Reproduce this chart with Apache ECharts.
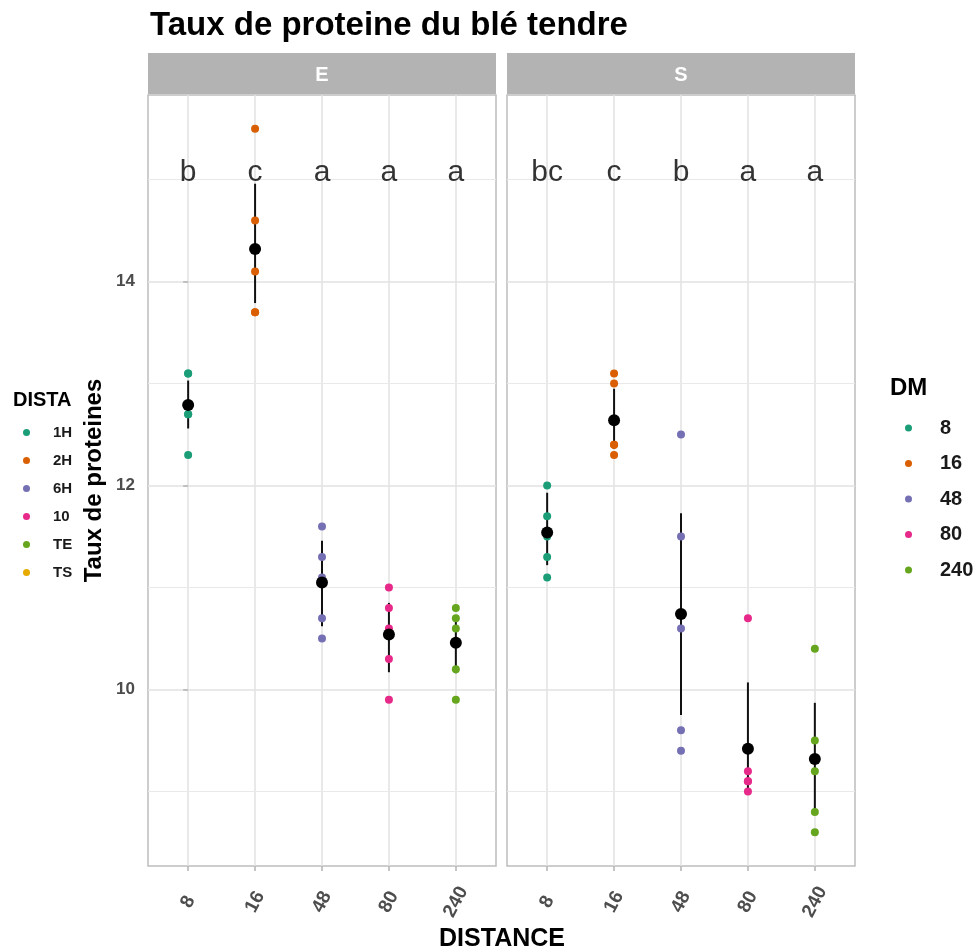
<!DOCTYPE html>
<html>
<head>
<meta charset="utf-8">
<script src="https://cdn.jsdelivr.net/npm/echarts@6/dist/echarts.min.js"></script>
<style>
  html, body { margin: 0; padding: 0; background: #fff; }
  #chart { width: 979px; height: 952px; }
</style>
</head>
<body>
<div id="chart"></div>
<script>
// Protein content of soft wheat, by distance, in two facets (E, S)
const distances = ['8', '16', '48', '80', '240'];
const panels = ['E', 'S'];
const distaLevels = ['1H', '2H', '6H', '10', 'TE', 'TS'];

// individual measurements, one list per distance
const proteinE = [
  [13.1, 13.1, 12.7, 12.7, 12.3],
  [15.5, 14.6, 14.1, 13.7, 13.7],
  [11.6, 11.3, 11.1, 10.7, 10.5],
  [11.0, 10.8, 10.6, 10.3, 9.9],
  [10.8, 10.7, 10.6, 10.2, 9.9]
];
const proteinS = [
  [12.0, 11.7, 11.5, 11.3, 11.1],
  [13.1, 13.0, 12.4, 12.4, 12.3],
  [12.5, 11.5, 10.6, 9.6, 9.4],
  [10.7, 9.2, 9.1, 9.1, 9.0],
  [10.4, 9.5, 9.2, 8.8, 8.6]
];

// summary: mean and interval bounds
const meanE = [12.79, 14.32, 11.05, 10.54, 10.46];
const lowE  = [12.56, 13.79, 10.62, 10.17, 10.16];
const highE = [13.03, 14.96, 11.46, 10.85, 10.73];
const meanS = [11.54, 12.64, 10.74, 9.42, 9.32];
const lowS  = [11.22, 12.36, 9.75, 9.00, 8.80];
const highS = [11.93, 12.95, 11.73, 10.07, 9.87];

// significance groups
const lettersE = ['b', 'c', 'a', 'a', 'a'];
const lettersS = ['bc', 'c', 'b', 'a', 'a'];
const letterLevel = 15;

// y axis
const yRange = [8.27, 15.83];
const yTicks = [10, 12, 14];
const yMinorLines = [9, 11, 13, 15];

// ---- layout & style ----
const palette = ['#1B9E77', '#D95F02', '#7570B3', '#E7298A', '#66A61E', '#E6AB02'];
const font = '"Liberation Sans", Arial, sans-serif';
const panelLeft = [148, 507];
const panelWidth = 348;
const panelTop = 95;
const panelHeight = 771;
const stripTop = 53;
const stripHeight = 41;
const gridColor = '#e2e2e2';
const catIndex = distances.map((_, i) => i);

const panelData = [
  { points: proteinE, mean: meanE, low: lowE, high: highE, letters: lettersE },
  { points: proteinS, mean: meanS, low: lowS, high: highS, letters: lettersS }
];

const series = [];
panelData.forEach((p, k) => {
  // minor horizontal grid lines, kept beneath the marks
  series.push({
    type: 'scatter', xAxisIndex: k, yAxisIndex: k, data: [], silent: true, z: 1,
    markLine: {
      silent: true, symbol: 'none', animation: false, z: 1,
      label: { show: false },
      lineStyle: { color: '#e9e9e9', width: 1.2, type: 'solid' },
      data: yMinorLines.map(v => ({ yAxis: v }))
    }
  });
  // raw points, coloured by distance
  distances.forEach((d, i) => {
    series.push({
      name: d, type: 'scatter', xAxisIndex: k, yAxisIndex: k,
      symbol: 'circle', symbolSize: 8, silent: true,
      itemStyle: { color: palette[i], opacity: 1 },
      data: p.points[i].map(v => [i, v])
    });
  });
  // interval bars
  series.push({
    type: 'custom', xAxisIndex: k, yAxisIndex: k, silent: true,
    data: p.low.map((l, i) => [i, l, p.high[i]]),
    encode: { x: 0, y: [1, 2] },
    renderItem: (params, api) => {
      const a = api.coord([api.value(0), api.value(1)]);
      const b = api.coord([api.value(0), api.value(2)]);
      return {
        type: 'line',
        shape: { x1: a[0], y1: a[1], x2: b[0], y2: b[1] },
        style: { stroke: '#111', lineWidth: 2 }
      };
    }
  });
  // means
  series.push({
    type: 'scatter', xAxisIndex: k, yAxisIndex: k, silent: true,
    symbol: 'circle', symbolSize: 12,
    itemStyle: { color: '#000', opacity: 1 },
    data: p.mean.map((m, i) => [i, m])
  });
  // group letters
  series.push({
    type: 'scatter', xAxisIndex: k, yAxisIndex: k, silent: true,
    symbolSize: 0,
    data: p.letters.map((t, i) => [i, letterLevel, t]),
    label: {
      show: true, position: 'inside', offset: [0, -7],
      formatter: q => q.data[2],
      fontSize: 30, color: '#000', fontFamily: font
    }
  });
});
// entries of the DISTA legend
distaLevels.forEach((n, i) => {
  series.push({ name: n, type: 'scatter', xAxisIndex: 0, yAxisIndex: 0, data: [], itemStyle: { color: palette[i], opacity: 1 } });
});

const xAxes = panels.map((_, k) => ({
  type: 'value', gridIndex: k, min: -0.6, max: 4.6,
  axisLine: { show: false },
  axisTick: { show: true, length: 5, customValues: catIndex, lineStyle: { color: '#b3b3b3', width: 1.5 } },
  axisLabel: {
    customValues: catIndex,
    formatter: v => (Number.isInteger(v) && distances[v] !== undefined) ? distances[v] : '',
    rotate: 62, align: 'center', verticalAlign: 'middle', margin: 36,
    fontSize: 19, fontWeight: 'bold', color: '#4d4d4d', fontFamily: font
  },
  splitLine: { show: true, lineStyle: { color: gridColor, width: 1.5 } }
}));

const yAxes = panels.map((_, k) => ({
  type: 'value', gridIndex: k, min: yRange[0], max: yRange[1], splitNumber: 4,
  axisLine: { show: false },
  axisTick: { show: k === 0, length: 5, customValues: yTicks, lineStyle: { color: '#b3b3b3', width: 1.5 } },
  axisLabel: {
    show: k === 0, customValues: yTicks, margin: 13,
    formatter: v => yTicks.includes(v) ? String(v) : '',
    fontSize: 17, fontWeight: 'bold', color: '#4d4d4d', fontFamily: font
  },
  splitLine: { show: true, lineStyle: { color: gridColor, width: 1.5 } },
  name: k === 0 ? 'Taux de proteines' : '',
  nameLocation: 'middle', nameGap: 42,
  nameTextStyle: { fontSize: 24, fontWeight: 'bold', color: '#000', fontFamily: font }
}));

const strips = panels.flatMap((name, k) => [
  {
    type: 'rect', x: panelLeft[k], y: stripTop,
    shape: { width: panelWidth, height: stripHeight },
    style: { fill: '#b3b3b3' }
  },
  {
    type: 'text', x: panelLeft[k] + panelWidth / 2, y: stripTop + stripHeight / 2 + 2,
    style: { text: name, fill: '#fff', font: 'bold 20px ' + font, align: 'center', verticalAlign: 'middle' }
  }
]);

const legendText = (size) => ({ fontSize: size, fontWeight: 'bold', color: '#1a1a1a', fontFamily: font });

const option = {
  animation: false,
  backgroundColor: '#fff',
  title: [
    { text: 'Taux de proteine du blé tendre', left: 150, top: 9, padding: 0,
      textStyle: { fontSize: 33, fontWeight: 'bold', color: '#000', fontFamily: font } },
    { text: 'DISTANCE', left: 502, top: 927, padding: 0, textAlign: 'center',
      textStyle: { fontSize: 25, fontWeight: 'bold', color: '#000', fontFamily: font } },
    { text: 'DM', left: 890, top: 376, padding: 0,
      textStyle: { fontSize: 24, fontWeight: 'bold', color: '#000', fontFamily: font } },
    { text: 'DISTA', left: 13, top: 390, padding: 0,
      textStyle: { fontSize: 20, fontWeight: 'bold', color: '#000', fontFamily: font } }
  ],
  legend: [
    {
      data: distances, orient: 'vertical', left: 905, top: 418, padding: 0,
      icon: 'circle', itemWidth: 7, itemHeight: 7, itemGap: 15.5,
      selectedMode: false,
      textStyle: Object.assign(legendText(20), { padding: [0, 0, 0, 23] })
    },
    {
      data: distaLevels, orient: 'vertical', left: 23, top: 425, padding: 0,
      icon: 'circle', itemWidth: 7, itemHeight: 7, itemGap: 13,
      selectedMode: false,
      textStyle: Object.assign(legendText(15), { padding: [0, 0, 0, 18] })
    }
  ],
  grid: panels.map((_, k) => ({
    left: panelLeft[k], top: panelTop, width: panelWidth, height: panelHeight,
    show: true, backgroundColor: '#fff', borderColor: '#bdbdbd', borderWidth: 1.5
  })),
  xAxis: xAxes,
  yAxis: yAxes,
  graphic: strips,
  series: series
};

const chart = echarts.init(document.getElementById('chart'), null, { renderer: 'canvas' });
chart.setOption(option);
</script>
</body>
</html>
